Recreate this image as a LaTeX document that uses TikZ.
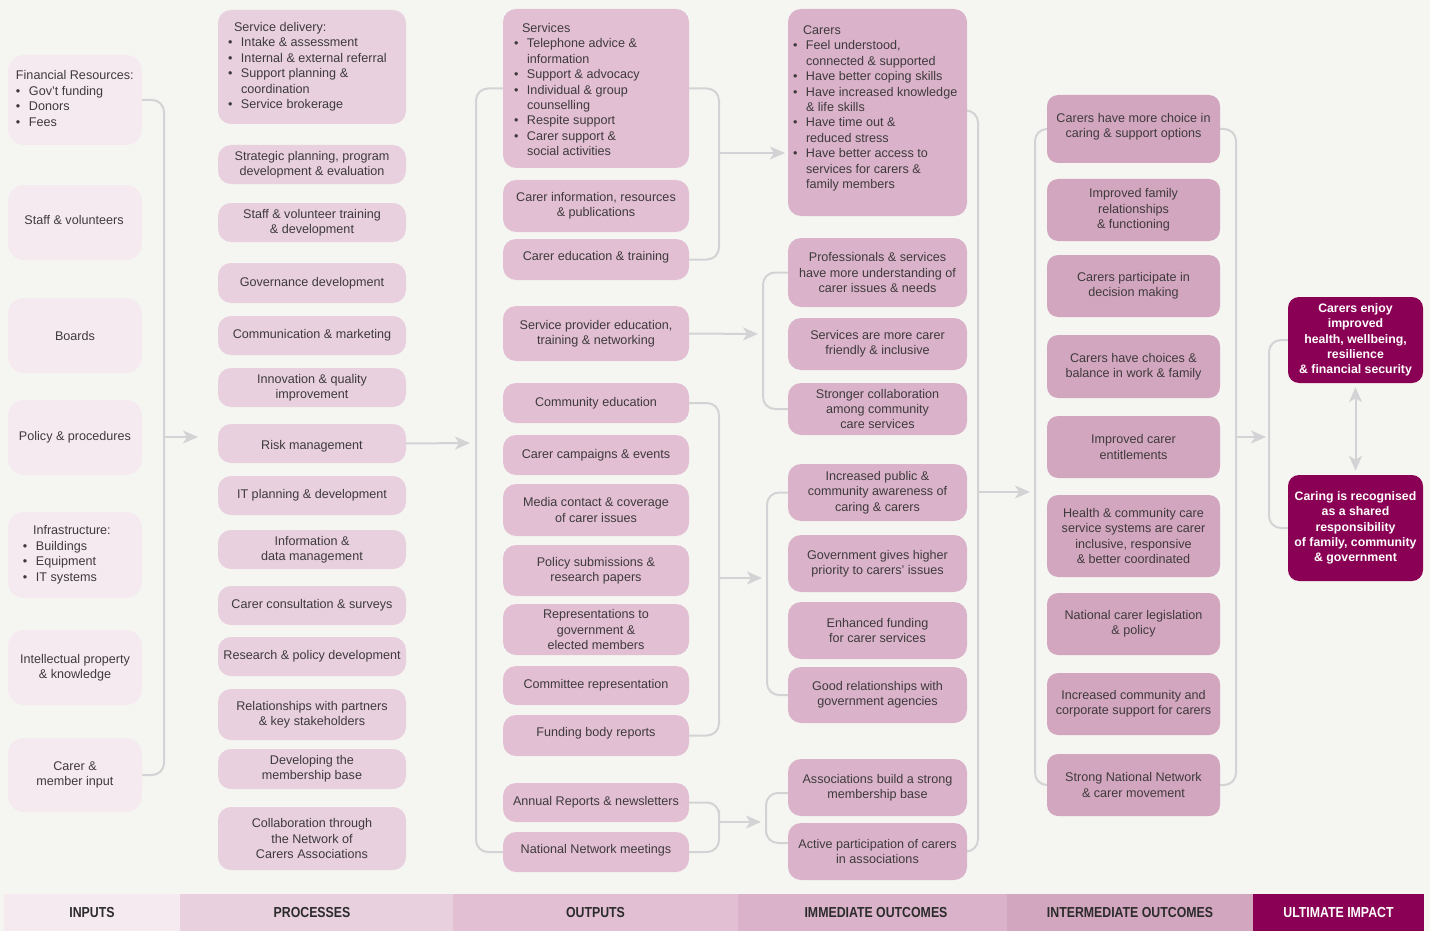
\documentclass[tikz,border=0pt]{standalone}
\usepackage{fontspec}
\setmainfont{Liberation Sans}
\newfontface\barfont[FakeStretch=0.85]{Liberation Sans Bold}
\usetikzlibrary{arrows.meta}
\definecolor{bg}{HTML}{F5F6F1}
\definecolor{lc}{HTML}{D3D3D6}
\definecolor{tx}{HTML}{3E3A3C}
\definecolor{tx2}{HTML}{2B2B2B}
\definecolor{cin}{HTML}{F6EAF1}
\definecolor{cpr}{HTML}{E8D0DF}
\definecolor{cou}{HTML}{E2BFD3}
\definecolor{cim}{HTML}{DAB3CA}
\definecolor{cit}{HTML}{D3A6BF}
\definecolor{cul}{HTML}{8A0054}
\pgfdeclarelayer{bglayer}
\pgfdeclarelayer{lines}
\pgfsetlayers{bglayer,lines,main}
\newcommand{\bu}{\makebox[13pt][l]{•}}
\newcommand{\ind}{\hspace*{13pt}}
\newcommand{\lst}[2]{\makebox[#1][l]{\begin{tabular}{@{}l@{}}#2\end{tabular}}}
\newcommand{\shiftup}[2]{\raisebox{#1}[\height][\depth]{#2}}
\tikzset{
 conn/.style={draw=lc, line width=2pt, rounded corners=12pt},
 arr/.style={draw=lc, line width=2pt, -{Stealth[length=15pt,width=13pt,inset=4pt]}},
 dbl/.style={draw=lc, line width=2pt, {Stealth[length=15pt,width=13pt,inset=4pt]}-{Stealth[length=15pt,width=13pt,inset=4pt]}},
 box/.style={rounded corners=13pt, inner sep=2pt, align=center, text=tx, font=\fontsize{12.6}{15.4}\selectfont},
 mh/.style={minimum height=#1pt},
 inb/.style={box, fill=cin, minimum width=134pt, rounded corners=16pt},
 prb/.style={box, fill=cpr, minimum width=188pt},
 oub/.style={box, fill=cou, minimum width=186pt},
 imb/.style={box, fill=cim, minimum width=179pt},
 itb/.style={box, fill=cit, minimum width=173pt, rounded corners=11pt},
 ulb/.style={box, fill=cul, minimum width=135pt, text=white, font=\fontsize{12.3}{15.4}\selectfont\bfseries, rounded corners=11pt},
 bar/.style={minimum height=37pt, inner sep=0pt, font=\barfont\fontsize{14.5}{16}\selectfont, text=tx2},
}
\begin{document}
\begin{tikzpicture}[x=1pt,y=-1pt]
\useasboundingbox (0,0) rectangle (1430,931);
\begin{pgfonlayer}{bglayer}
\fill[bg] (0,0) rectangle (1430,931);
\end{pgfonlayer}

% ---------- INPUTS ----------
\node[inb, mh=90, inner xsep=8pt] (fin) at (75,100) {\lst{118pt}{Financial Resources:\\ \bu Gov’t funding\\ \bu Donors\\ \bu Fees}};
\node[inb, mh=75] (staff) at (75,222.5) {\shiftup{3pt}{Staff \& volunteers}\hspace*{2pt}};
\node[inb, mh=75] (boards) at (75,335.5) {Boards};
\node[inb, mh=75] (policy) at (75,437.5) {Policy \& procedures};
\node[inb, mh=86, inner xsep=15pt] (infra) at (75,555) {\lst{104pt}{\hspace*{10pt}Infrastructure:\\ \bu Buildings\\ \bu Equipment\\ \bu IT systems}};
\node[inb, mh=75] (ip) at (75,667.5) {Intellectual property\\ \& knowledge};
\node[inb, mh=74] (carerin) at (75,775) {Carer \&\\ member input};

% ---------- PROCESSES ----------
\node[prb, mh=114, inner xsep=10pt] (sd) at (312,67) {\lst{168pt}{\hspace*{6pt}Service delivery:\\ \bu Intake \& assessment\\ \bu Internal \& external referral\\ \bu Support planning \&\\ \ind coordination\\ \bu Service brokerage}};
\node[prb, mh=39] (strat) at (312,164.5) {Strategic planning, program\\ development \& evaluation};
\node[prb, mh=39] (svt) at (312,222.5) {Staff \& volunteer training\\ \& development};
\node[prb, mh=40] (gov) at (312,283) {Governance development};
\node[prb, mh=39] (comm) at (312,335.5) {Communication \& marketing};
\node[prb, mh=39] (innov) at (312,387.5) {Innovation \& quality\\ improvement};
\node[prb, mh=39] (risk) at (312,443.5) {\shiftup{-3pt}{Risk management}};
\node[prb, mh=39] (itp) at (312,495.5) {IT planning \& development};
\node[prb, mh=39] (info) at (312,549.5) {Information \&\\ data management};
\node[prb, mh=39] (cons) at (312,605.5) {Carer consultation \& surveys};
\node[prb, mh=39] (resp) at (312,656.5) {Research \& policy development};
\node[prb, mh=51] (rel) at (312,714.5) {Relationships with partners\\ \& key stakeholders};
\node[prb, mh=40] (devm) at (312,769) {Developing the\\ membership base};
\node[prb, mh=63] (collab) at (312,838.5) {Collaboration through\\ the Network of\\ Carers Associations};

% ---------- OUTPUTS ----------
\node[oub, mh=159, inner xsep=11pt] (serv) at (596,88.5) {\shiftup{-2.5pt}{\lst{164pt}{\hspace*{8pt}Services\\ \bu Telephone advice \&\\ \ind information\\ \bu Support \& advocacy\\ \bu Individual \& group\\ \ind counselling\\ \bu Respite support\\ \bu Carer support \&\\ \ind social activities}}};
\node[oub, mh=52] (cinfo) at (596,206) {Carer information, resources\\ \& publications};
\node[oub, mh=41] (cedu) at (596,259.5) {\shiftup{2pt}{Carer education \& training}};
\node[oub, mh=55] (spe) at (596,333.5) {Service provider education,\\ training \& networking};
\node[oub, mh=40] (cedn) at (596,403) {Community education};
\node[oub, mh=40] (camp) at (596,455) {Carer campaigns \& events};
\node[oub, mh=52] (media) at (596,510) {Media contact \& coverage\\ of carer issues};
\node[oub, mh=51] (psub) at (596,570.5) {Policy submissions \&\\ research papers};
\node[oub, mh=51] (repg) at (596,629.5) {Representations to\\ government \&\\ elected members};
\node[oub, mh=39] (crep) at (596,685.5) {Committee representation};
\node[oub, mh=41] (fund) at (596,735.5) {\shiftup{2pt}{Funding body reports}};
\node[oub, mh=39] (annual) at (596,802.5) {Annual Reports \& newsletters};
\node[oub, mh=40] (natnet) at (596,852) {\shiftup{2pt}{National Network meetings}};

% ---------- IMMEDIATE OUTCOMES ----------
\node[imb, mh=207, inner xsep=5pt] (carers) at (877.5,112.5) {\shiftup{4pt}{\lst{169pt}{\hspace*{10pt}Carers\\ \bu Feel understood,\\ \ind connected \& supported\\ \bu Have better coping skills\\ \bu Have increased knowledge\\ \ind \& life skills\\ \bu Have time out \&\\ \ind reduced stress\\ \bu Have better access to\\ \ind services for carers \&\\ \ind family members}}};
\node[imb, mh=69] (prof) at (877.5,272.5) {Professionals \& services\\ have more understanding of\\ carer issues \& needs};
\node[imb, mh=52] (sfriend) at (877.5,344) {Services are more carer\\ friendly \& inclusive};
\node[imb, mh=52] (strong) at (877.5,409) {Stronger collaboration\\ among community\\ care services};
\node[imb, mh=57] (incpub) at (877.5,492.5) {Increased public \&\\ community awareness of\\ caring \& carers};
\node[imb, mh=57] (govpri) at (877.5,563.5) {Government gives higher\\ priority to carers’ issues};
\node[imb, mh=57] (enhfund) at (877.5,630.5) {Enhanced funding\\ for carer services};
\node[imb, mh=56] (goodrel) at (877.5,695) {Good relationships with\\ government agencies};
\node[imb, mh=57] (assoc) at (877.5,787.5) {Associations build a strong\\ membership base};
\node[imb, mh=57] (active) at (877.5,851.5) {Active participation of carers\\ in associations};

% ---------- INTERMEDIATE OUTCOMES ----------
\node[itb, mh=68] (choice) at (1133.5,129) {\shiftup{2pt}{\begin{tabular}{@{}c@{}}Carers have more choice in\\ caring \& support options\end{tabular}}};
\node[itb, mh=62] (family) at (1133.5,210) {Improved family\\ relationships\\ \& functioning};
\node[itb, mh=62] (partic) at (1133.5,286) {Carers participate in\\ decision making};
\node[itb, mh=63] (balance) at (1133.5,366.5) {Carers have choices \&\\ balance in work \& family};
\node[itb, mh=62] (entitle) at (1133.5,447) {Improved carer\\ entitlements};
\node[itb, mh=82] (health) at (1133.5,536) {Health \& community care\\ service systems are carer\\ inclusive, responsive\\ \& better coordinated};
\node[itb, mh=62] (legis) at (1133.5,624) {National carer legislation\\ \& policy};
\node[itb, mh=62] (corp) at (1133.5,704) {Increased community and\\ corporate support for carers};
\node[itb, mh=62] (natnw) at (1133.5,785) {Strong National Network\\ \& carer movement};

% ---------- ULTIMATE IMPACT ----------
\node[ulb, mh=86] (enjoy) at (1355.5,340) {Carers enjoy\\ improved\\ health, wellbeing,\\ resilience\\ \& financial security};
\node[ulb, mh=106] (recog) at (1355.5,528) {Caring is recognised\\ as a shared\\ responsibility\\ of family, community\\ \& government};

% ---------- connectors ----------
\begin{pgfonlayer}{lines}
\coordinate (inspine) at (164,437);
\coordinate (intip) at (198,437);
\draw[conn] (fin.east) -| (inspine) |- (carerin.east);
\draw[arr] (inspine) -- (intip);

\coordinate (outspine) at (476,443);
\coordinate (outtip) at (470,443);
\draw[arr] (risk.east) -- (outtip);
\draw[conn] (serv.west) -| (outspine) |- (natnet.west);

\coordinate (sa) at (719,153);
\coordinate (satip) at (785,153);
\draw[conn] (serv.east) -| (sa) |- (cedu.east);
\draw[arr] (sa) -- (satip);

\coordinate (sbtip) at (758,334);
\coordinate (sbspine) at (763,334);
\draw[arr] (spe.east) -- (sbtip);
\draw[conn] (prof.west) -| (sbspine) |- (strong.west);

\coordinate (sc) at (719,578);
\coordinate (sctip) at (762,578);
\coordinate (scspine) at (767,578);
\draw[conn] (cedn.east) -| (sc) |- (fund.east);
\draw[arr] (sc) -- (sctip);
\draw[conn] (incpub.west) -| (scspine) |- (goodrel.west);

\coordinate (sdd) at (719,822);
\coordinate (sdtip) at (761,822);
\coordinate (sdspine) at (766,822);
\draw[conn] (annual.east) -| (sdd) |- (natnet.east);
\draw[arr] (sdd) -- (sdtip);
\draw[conn] ([yshift=-5.5pt]assoc.west) -| (sdspine) |- ([yshift=8.5pt]active.west);

\coordinate (imspine) at (978,492);
\coordinate (imtip) at (1030,492);
\draw[conn] ([yshift=2pt]carers.east) -| (imspine) |- (active.east);
\draw[arr] (imspine) -- (imtip);

\coordinate (itlspine) at (1035,492);
\draw[conn] (choice.west) -| (itlspine) |- (natnw.west);
\coordinate (itrspine) at (1236,437);
\coordinate (ittip) at (1266,437);
\draw[conn] (choice.east) -| (itrspine) |- (natnw.east);
\draw[arr] (itrspine) -- (ittip);

\coordinate (ulspine) at (1269,437);
\draw[conn] (enjoy.west) -| (ulspine) |- (recog.west);
\draw[dbl, shorten <=4pt, shorten >=4pt] (enjoy.south) -- (recog.north);
\end{pgfonlayer}

% ---------- bottom bar ----------
\node[bar, fill=cin, minimum width=176pt] (binputs) at (92,912.5) {INPUTS};
\node[bar, fill=cpr, minimum width=273pt] (bproc) at (316.5,912.5) {PROCESSES\hspace*{9pt}};
\node[bar, fill=cou, minimum width=285pt] (bout) at (595.5,912.5) {OUTPUTS};
\node[bar, fill=cim, minimum width=269pt] (bimm) at (872.5,912.5) {\hspace*{7pt}IMMEDIATE OUTCOMES};
\node[bar, fill=cit, minimum width=246pt] (binter) at (1130,912.5) {INTERMEDIATE OUTCOMES};
\node[bar, fill=cul, minimum width=171pt, text=white] (bult) at (1338.5,912.5) {ULTIMATE IMPACT};
\end{tikzpicture}
\end{document}
